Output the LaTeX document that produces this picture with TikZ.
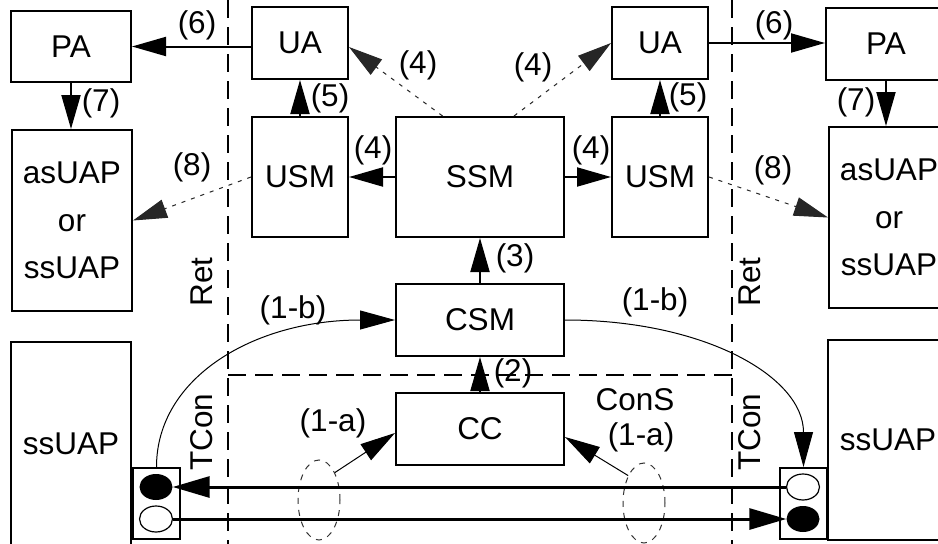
\documentclass[tikz,border=0pt]{standalone}
\usepackage{fontspec}
\setmainfont{Liberation Sans}
\usetikzlibrary{arrows.meta,shapes.geometric,calc}
\newcommand{\figfont}{\fontsize{31.5}{37}\selectfont}
\newcommand{\figfontml}{\fontsize{31.5}{47.5}\selectfont}
\begin{document}
\begin{tikzpicture}[x=1pt,y=-1pt,
  box/.style={draw, line width=2pt, rectangle, inner sep=0pt, font=\figfont},
  mbox/.style={box, align=center, font=\figfontml},
  lbl/.style={inner sep=0pt, font=\figfont},
  sep/.style={line width=2pt, dash pattern=on 18pt off 9pt},
  big/.style={line width=2pt, -{Triangle[length=34pt,width=19pt]}},
  dotarrow/.style={line width=1pt, dash pattern=on 4pt off 6pt, draw=black!85, -{Triangle[length=34pt,width=19pt]}},
  thin/.style={line width=1pt, -{Triangle[length=35pt,width=19pt]}},
  thickarrow/.style={line width=3pt, -{Triangle[length=37pt,width=21pt]}},
  dot/.style={ellipse, inner sep=0pt, minimum width=33pt, minimum height=26pt},
  ring/.style={draw=black!80, line width=1pt, dash pattern=on 6pt off 6pt, ellipse, inner sep=0pt, minimum width=42pt, minimum height=80pt}
]
\useasboundingbox (0,0) rectangle (938,544);
\clip (0,0) rectangle (938,544);
\fill[white] (0,0) rectangle (938,544);

% separators
\draw[sep] (228,0) -- (228,544);
\draw[sep] (732,0) -- (732,544);
\draw[sep] (228,375) -- (732,375);

% boxes
\node[box, minimum width=120pt, minimum height=71pt] (PAL) at (71,46.5) {PA};
\node[box, minimum width=96pt, minimum height=72pt] (UAL) at (300,43) {UA};
\node[box, minimum width=96pt, minimum height=120pt] (USML) at (300,177) {USM};
\node[box, minimum width=168pt, minimum height=120pt] (SSM) at (480,177) {SSM};
\node[box, minimum width=96pt, minimum height=120pt] (USMR) at (660,177) {USM};
\node[box, minimum width=96pt, minimum height=72pt] (UAR) at (660,43) {UA};
\node[box, minimum width=120pt, minimum height=72pt] (PAR) at (886,44) {PA};
\node[mbox, minimum width=120pt, minimum height=181pt] (ASL) at (72,220.5) {asUAP\\or\\ssUAP};
\node[mbox, minimum width=120pt, minimum height=181pt] (ASR) at (889,217.5) {asUAP\\or\\ssUAP};
\node[box, minimum width=168pt, minimum height=72pt] (CSM) at (480,320) {CSM};
\node[box, minimum width=168pt, minimum height=72pt] (CC) at (480,429) {CC};
\node[box, minimum width=120pt, minimum height=203pt] (SSL) at (71,443.5) {ssUAP};
\node[box, minimum width=120pt, minimum height=200pt] (SSR) at (888,440) {ssUAP};
\node[box, minimum width=47pt, minimum height=71pt] (SL) at (156.5,503.5) {};
\node[box, minimum width=47pt, minimum height=71pt] (SR) at (803.5,503.5) {};

% connectors
\draw[big] (UAL.west |- PAL.east) -- (PAL.east);
\draw[big] (UAR.east) -- (UAR.east -| PAR.west);
\draw[big] (PAL.south) -- (PAL.south |- ASL.north);
\draw[big] (PAR.south) -- (PAR.south |- ASR.north);
\draw[big] (USML.north) -- (UAL.south);
\draw[big] (USMR.north) -- (UAR.south);
\draw[big] (SSM.west) -- (USML.east);
\draw[big] (SSM.east) -- (USMR.west);
\draw[big] (CSM.north) -- (SSM.south);
\draw[big] (CC.north) -- (CSM.south);
\draw[dotarrow] ($(SSM.north west)!0.28!(SSM.north east)$) -- ([yshift=-4pt]UAL.east);
\draw[dotarrow] ($(SSM.north west)!0.70!(SSM.north east)$) -- (UAR.west);
\draw[dotarrow] (USML.west) -- (ASL.east);
\draw[dotarrow] (USMR.east) -- (ASR.west);

% (1-b) curves
\draw[thin] (SL.north) .. controls +(0,-90) and +(-140,0) .. (CSM.west);
\draw[thin] (CSM.east) .. controls +(140,0) and +(0,-90) .. (SR.north);

% dashed rings
\node[ring] (EL) at (319,500) {};
\node[ring] (ER) at (644,503) {};
\draw[thin] (EL.60) -- ([yshift=-4pt]CC.west);
\draw[thin] (ER.120) -- ([yshift=-8pt]CC.east);

% terminals
\node[dot, fill=black] (LF) at (156,487) {};
\node[dot, draw, fill=white, line width=1.2pt] (LO) at (156,519) {};
\node[dot, draw, fill=white, line width=1.2pt] (RO) at (803,487) {};
\node[dot, fill=black] (RF) at (803,519) {};
\draw[thickarrow] (RO.west) -- (LF.east);
\draw[thickarrow] (LO.east) -- (RF.west);

% labels
\node[lbl] at (197,25) {(6)};
\node[lbl] at (774,25) {(6)};
\node[lbl] at (101,103) {(7)};
\node[lbl] at (856,102) {(7)};
\node[lbl] at (330,98) {(5)};
\node[lbl] at (688,97) {(5)};
\node[lbl] at (418,65) {(4)};
\node[lbl] at (533,67) {(4)};
\node[lbl] at (373,150) {(4)};
\node[lbl] at (591,150) {(4)};
\node[lbl] at (192,167) {(8)};
\node[lbl] at (773,170) {(8)};
\node[lbl] at (515,258) {(3)};
\node[lbl] at (513,373) {(2)};
\node[lbl] at (293,310) {(1-b)};
\node[lbl] at (655,302) {(1-b)};
\node[lbl] at (333,423) {(1-a)};
\node[lbl] at (635,400) {ConS};
\node[lbl] at (641,437) {(1-a)};
\node[lbl, rotate=90] at (202,282) {Ret};
\node[lbl, rotate=90] at (750,282) {Ret};
\node[lbl, rotate=90] at (202,432) {TCon};
\node[lbl, rotate=90] at (750,432) {TCon};
\end{tikzpicture}
\end{document}
